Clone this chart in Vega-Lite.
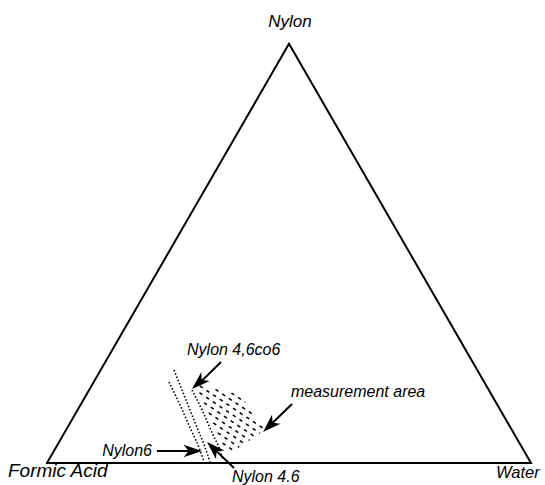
{
  "$schema": "https://vega.github.io/schema/vega-lite/v6.json",
  "width": 545,
  "height": 485,
  "padding": 0,
  "autosize": {"type": "none"},
  "background": "white",
  "config": {"view": {"stroke": null}, "text": {"font": "Liberation Sans", "fontStyle": "italic", "color": "black", "baseline": "middle"}},
  "datasets": {
    "triangle": [
      {"ord": 0, "x": 0, "y": 0},
      {"ord": 1, "x": 50, "y": 86.6},
      {"ord": 2, "x": 100, "y": 0},
      {"ord": 3, "x": 0, "y": 0}
    ],
    "curves": [
      {"curve": "Nylon6", "ord": 0, "x": 25.21, "y": 16.74},
      {"curve": "Nylon6", "ord": 1, "x": 27.48, "y": 11.98},
      {"curve": "Nylon6", "ord": 2, "x": 29.96, "y": 6.40},
      {"curve": "Nylon6", "ord": 3, "x": 31.61, "y": 2.69},
      {"curve": "Nylon6", "ord": 4, "x": 32.44, "y": 0.21},
      {"curve": "Nylon 4.6", "ord": 0, "x": 26.24, "y": 19.21},
      {"curve": "Nylon 4.6", "ord": 1, "x": 28.31, "y": 14.05},
      {"curve": "Nylon 4.6", "ord": 2, "x": 30.79, "y": 7.85},
      {"curve": "Nylon 4.6", "ord": 3, "x": 32.64, "y": 3.31},
      {"curve": "Nylon 4.6", "ord": 4, "x": 33.68, "y": 0.21},
      {"curve": "Nylon 4,6co6", "ord": 0, "x": 29.96, "y": 15.08},
      {"curve": "Nylon 4,6co6", "ord": 1, "x": 32.23, "y": 10.54},
      {"curve": "Nylon 4,6co6", "ord": 2, "x": 34.30, "y": 5.79},
      {"curve": "Nylon 4,6co6", "ord": 3, "x": 35.74, "y": 2.69},
      {"curve": "Nylon 4,6co6", "ord": 4, "x": 36.36, "y": 0.62}
    ],
    "hatch": [
      {"x": 38.10, "y": 14.46, "x2": 40.95, "y2": 12.54},
      {"x": 34.83, "y": 15.21, "x2": 42.93, "y2": 9.77},
      {"x": 31.57, "y": 15.93, "x2": 44.92, "y2": 7.00},
      {"x": 31.51, "y": 14.52, "x2": 44.03, "y2": 6.14},
      {"x": 32.46, "y": 12.44, "x2": 42.98, "y2": 5.39},
      {"x": 33.43, "y": 10.35, "x2": 41.88, "y2": 4.69},
      {"x": 34.36, "y": 8.29, "x2": 40.81, "y2": 3.97},
      {"x": 35.31, "y": 6.20, "x2": 39.71, "y2": 3.24},
      {"x": 36.28, "y": 4.11, "x2": 38.62, "y2": 2.54}
    ],
    "arrows": [
      {"label": "Nylon 4,6co6", "x": 35.95, "y": 20.87, "x2": 31.18, "y2": 16.20, "tipx": 29.96, "tipy": 15.29, "angle": 227},
      {"label": "measurement area", "x": 50.62, "y": 12.19, "x2": 45.83, "y2": 7.56, "tipx": 44.63, "tipy": 6.40, "angle": 226},
      {"label": "Nylon6", "x": 22.73, "y": 2.48, "x2": 30.37, "y2": 2.48, "tipx": 32.02, "tipy": 2.48, "angle": 90},
      {"label": "Nylon 4.6", "x": 38.64, "y": -1.03, "x2": 34.26, "y2": 3.18, "tipx": 33.06, "tipy": 4.34, "angle": 314}
    ],
    "labels": [
      {"text": "Nylon", "x": 50.2, "y": 91.1},
      {"text": "Formic Acid", "x": -8.06, "y": -1.65},
      {"text": "Water", "x": 92.77, "y": -2.07},
      {"text": "Nylon 4,6co6", "x": 28.93, "y": 23.35},
      {"text": "measurement area", "x": 50.41, "y": 14.67},
      {"text": "Nylon6", "x": 21.69, "y": 2.48},
      {"text": "Nylon 4.6", "x": 38.22, "y": -2.89}
    ]
  },
  "encoding": {
    "x": {"field": "x", "type": "quantitative", "axis": null, "scale": {"domain": [-9.711, 102.893], "nice": false, "zero": false}},
    "y": {"field": "y", "type": "quantitative", "axis": null, "scale": {"domain": [-4.545, 95.661], "nice": false, "zero": false}}
  },
  "layer": [
    {
      "data": {"name": "triangle"},
      "mark": {"type": "line", "color": "black", "strokeWidth": 2, "strokeJoin": "miter", "strokeCap": "square"},
      "encoding": {"order": {"field": "ord", "type": "quantitative"}}
    },
    {
      "data": {"name": "hatch"},
      "mark": {"type": "rule", "color": "black", "strokeWidth": 1.5, "strokeDash": [3.5, 4.5]},
      "encoding": {
        "x2": {"field": "x2"},
        "y2": {"field": "y2"}
      }
    },
    {
      "data": {"name": "curves"},
      "mark": {"type": "line", "color": "black", "strokeWidth": 1.6, "strokeDash": [1.5, 2], "interpolate": "monotone"},
      "encoding": {
        "detail": {"field": "curve"},
        "order": {"field": "ord", "type": "quantitative"}
      }
    },
    {
      "data": {"name": "arrows"},
      "mark": {"type": "rule", "color": "black", "strokeWidth": 2},
      "encoding": {
        "x2": {"field": "x2"},
        "y2": {"field": "y2"}
      }
    },
    {
      "data": {"name": "arrows"},
      "mark": {"type": "point", "filled": true, "color": "black", "opacity": 1, "size": 420,
               "shape": "M0,0L0.6,1.8L0,1.3L-0.6,1.8Z"},
      "encoding": {
        "x": {"field": "tipx", "type": "quantitative"},
        "y": {"field": "tipy", "type": "quantitative"},
        "angle": {"field": "angle", "type": "quantitative", "scale": null}
      }
    },
    {
      "data": {"name": "labels"},
      "transform": [{"filter": "datum.text == 'Nylon'"}],
      "mark": {"type": "text", "fontSize": 17, "align": "center"},
      "encoding": {"text": {"field": "text"}}
    },
    {
      "data": {"name": "labels"},
      "transform": [{"filter": "datum.text == 'Formic Acid'"}],
      "mark": {"type": "text", "fontSize": 19, "align": "left"},
      "encoding": {"text": {"field": "text"}}
    },
    {
      "data": {"name": "labels"},
      "transform": [{"filter": "datum.text == 'Water'"}],
      "mark": {"type": "text", "fontSize": 16.5, "align": "left"},
      "encoding": {"text": {"field": "text"}}
    },
    {
      "data": {"name": "labels"},
      "transform": [{"filter": "datum.text == 'Nylon 4,6co6' || datum.text == 'measurement area' || datum.text == 'Nylon 4.6'"}],
      "mark": {"type": "text", "fontSize": 16, "align": "left"},
      "encoding": {"text": {"field": "text"}}
    },
    {
      "data": {"name": "labels"},
      "transform": [{"filter": "datum.text == 'Nylon6'"}],
      "mark": {"type": "text", "fontSize": 16, "align": "right"},
      "encoding": {"text": {"field": "text"}}
    }
  ]
}
